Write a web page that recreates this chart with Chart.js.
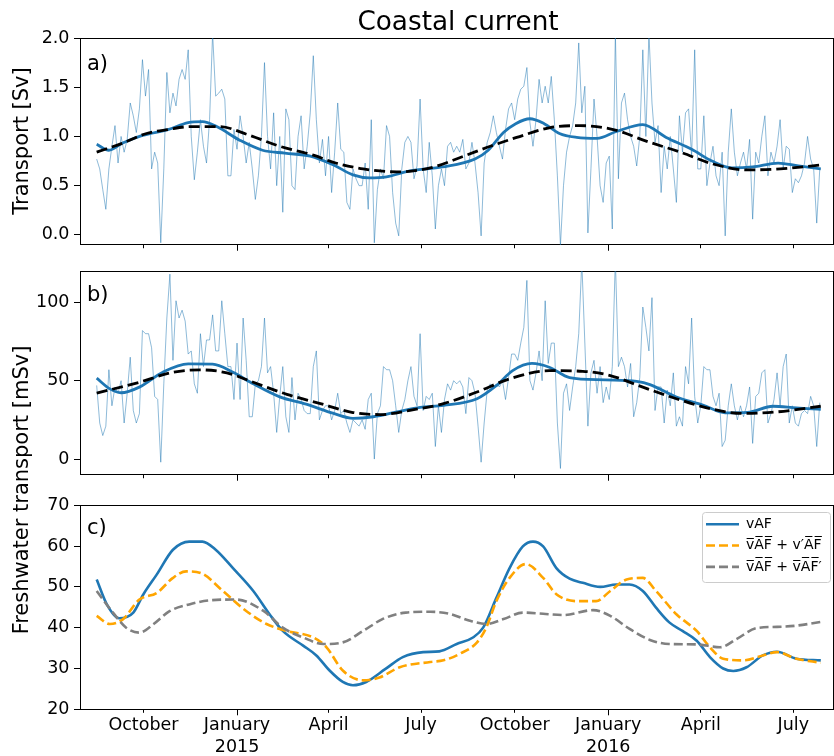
<!DOCTYPE html>
<html><head><meta charset="utf-8">
<script src="https://cdn.jsdelivr.net/npm/chart.js@4/dist/chart.umd.min.js"></script>
<style>
html,body{margin:0;padding:0;background:#fff;}
#wrap{position:relative;width:834px;height:756px;overflow:hidden;font-family:'DejaVu Sans',sans-serif;color:#000;}
.panel{position:absolute;left:0;width:834px;}
.panel canvas{display:block;}
.txt{position:absolute;white-space:nowrap;line-height:1;transform:translate(-50%,-50%);z-index:5;}
.rot{transform:translate(-50%,-50%) rotate(-90deg);}
.plab{position:absolute;white-space:nowrap;line-height:1;transform:translate(0,-50%);z-index:5;font-size:21px;}
</style></head><body>
<div id="wrap">
 <div class="panel" style="top:0;height:260px"><canvas id="cA" width="834" height="260"></canvas></div>
 <div class="panel" style="top:252px;height:238px"><canvas id="cB" width="834" height="238"></canvas></div>
 <div class="panel" style="top:490px;height:266px"><canvas id="cC" width="834" height="266"></canvas></div>
 <div class="txt" style="left:458px;top:21px;font-size:26.3px">Coastal current</div>
 <div class="txt rot" style="left:21px;top:141px;font-size:21px">Transport [Sv]</div>
 <div class="txt rot" style="left:21px;top:490px;font-size:21px">Freshwater transport [mSv]</div>
 <div class="plab" style="left:87px;top:63px">a)</div>
 <div class="plab" style="left:87px;top:294px">b)</div>
 <div class="plab" style="left:87px;top:527px">c)</div>
</div>
<script>
// ---------------- data ----------------
const START_DATE = '2014-08-16';
const SAMPLE_STEP_DAYS = 3;

// Panel a: transport [Sv], sampled every 3 days from START_DATE
const transportDaily = [
0.77,0.67,0.46,0.26,0.67,0.90,1.11,0.73,1.00,0.84,
0.97,1.34,1.21,1.04,1.28,1.78,1.41,1.68,0.67,0.84,
0.73,-0.08,0.67,1.65,1.24,1.44,1.31,1.58,1.68,1.58,
1.88,1.00,0.56,0.84,1.17,0.90,0.73,1.17,2.05,1.41,
1.44,1.48,1.38,0.60,0.60,1.07,0.87,1.21,1.00,0.73,
0.94,0.67,0.36,0.60,1.00,1.75,1.00,0.67,1.24,0.50,
1.00,0.23,1.28,1.17,0.50,0.46,1.00,1.21,0.67,0.90,
1.24,1.82,1.17,0.73,0.97,0.60,1.00,0.43,0.84,
1.34,0.87,0.84,0.33,0.26,0.67,0.57,0.50,0.50,0.73,
0.26,1.17,-0.08,0.46,0.67,0.57,1.11,1.00,0.43,0.12,
-0.01,0.67,0.94,1.00,0.94,0.57,0.70,1.38,0.67,0.43,
0.94,0.60,0.06,0.50,0.67,0.50,0.90,0.94,0.84,0.90,
0.84,0.97,0.67,0.73,0.94,0.73,0.43,-0.01,0.73,0.94,
1.04,1.21,1.04,0.90,0.77,1.07,1.28,1.34,1.17,1.38,
1.48,1.51,1.70,1.14,0.90,1.17,1.58,1.34,1.51,1.34,
1.61,1.17,0.60,-0.11,0.50,0.84,1.00,1.11,1.34,1.95,
1.24,1.51,
0.02,0.67,1.38,1.00,0.50,0.33,0.73,0.80,0.06,2.05,
0.57,1.34,1.44,1.17,1.00,0.90,0.70,1.00,1.88,1.00,
2.05,1.34,0.94,1.11,0.43,0.90,0.67,1.00,0.67,0.33,
1.21,0.84,1.24,1.28,0.80,1.88,0.67,0.67,1.21,0.50,
0.73,0.90,0.60,0.50,0.84,-0.01,0.84,1.28,0.84,0.60,
0.73,0.84,0.67,0.97,0.16,0.84,0.73,1.00,1.21,0.60,
0.84,0.73,0.90,1.17,0.67,0.90,0.87,0.43,0.57,0.53,
0.60,0.73,1.00,0.77,0.67,0.12,0.67];

const transportSmoothDays = [0,12,25,45,70,90,104,118,141,163,185,210,233,252,268,285,308,340,372,385,400,412,426,440,455,472,492,511,537,560,585,605,625,645,670,690,712];
const transportSmooth = [0.92,0.86,0.93,1.01,1.07,1.14,1.15,1.10,0.96,0.86,0.83,0.80,0.71,0.61,0.58,0.59,0.65,0.69,0.77,0.86,1.04,1.13,1.18,1.13,1.03,0.99,0.98,1.05,1.12,0.99,0.87,0.75,0.68,0.69,0.73,0.70,0.67];
const transportMeanDays = [0,25,49,70,92,121,148,180,213,235,262,295,328,361,387,413,446,475,508,541,574,606,639,672,712];
const transportMean = [0.84,0.93,1.03,1.07,1.10,1.10,1.02,0.90,0.81,0.73,0.67,0.64,0.68,0.80,0.90,0.99,1.09,1.11,1.07,0.95,0.84,0.72,0.66,0.67,0.71];

// Panel b: freshwater transport [mSv], sampled every 3 days
const freshwaterDaily = [
47,23,15,21,57,34,46,42,50,23,
42,65,31,23,29,82,80,80,71,40,
38,-2,48,90,118,63,101,90,95,88,
67,69,48,42,80,59,76,76,92,69,
69,101,80,59,59,38,74,38,90,63,
27,27,48,50,59,90,55,59,42,17,
40,59,27,17,52,25,42,38,31,29,
29,59,69,25,31,34,34,25,31,
42,29,31,23,17,25,23,21,25,19,
38,42,0,29,34,59,57,57,50,34,
17,31,38,50,59,40,34,80,31,40,
38,42,8,34,17,38,48,44,50,
48,50,46,29,52,50,42,21,-2,23,
44,48,46,48,46,50,38,52,67,67,
63,74,84,114,50,44,55,69,50,101,
61,74,74,23,-6,42,48,31,46,59,
80,126,74,21,55,63,42,59,36,46,
38,59,128,59,65,59,46,61,27,36,
52,97,84,69,103,31,46,46,23,44,
34,55,21,27,21,59,48,90,40,23,
34,59,57,57,40,34,42,8,12,34,
48,34,25,34,27,34,46,10,40,42,
55,57,23,29,38,55,34,59,67,23,
34,23,21,29,31,29,40,34,8,36];

const freshSmoothDays = [0,13,24,42,65,90,114,134,154,180,206,233,252,272,298,318,341,374,393,409,428,445,465,500,531,544,570,596,618,640,665,688,712];
const freshSmooth = [51.6,44.8,42.3,45.9,55.4,60.7,60.6,55.4,48,39.7,35,29.1,26,27,30.5,33,34.3,38.5,46.9,56.4,61,58.6,52,50.5,49.5,47.5,39.6,34.5,29.5,29.8,33.7,32.6,31.8];
const freshMeanDays = [0,42,75,102,128,154,187,220,252,279,308,341,374,406,445,478,505,537,570,603,636,669,712];
const freshMean = [42.1,49,55.4,56.9,55,49,41.3,35.4,29.7,28.4,31.1,35.4,42.8,51.2,56.4,56,53.3,45.9,38.5,32.2,29.1,30.1,33.7];

// Panel c: decomposition
const vafDays = [0,10,22,36,46,59,75,91,104,117,134,154,170,183,203,216,229,242,252,265,284,301,321,337,354,370,380,393,406,419,429,439,452,465,478,495,511,524,537,550,563,576,590,603,616,626,639,655,669,688,712];
const vaf = [51.8,45.7,42.3,43.7,48.2,53,59.1,61.1,61.1,59.1,54.6,49,43.3,39.2,35.6,33.2,29.5,26.7,25.9,26.7,29.9,32.8,34,34.2,36,37.6,40,47.3,54.6,59.9,61.1,59.9,54.6,52,51,50,50.6,50.6,49,44.9,41.3,39.2,36.8,32.8,30,29.4,30.3,33.2,34.1,32.4,32];
const velTermDays = [0,13,26,42,59,75,88,104,124,147,167,187,213,226,242,262,278,298,328,341,357,374,383,393,406,422,439,452,472,491,505,521,537,550,570,590,603,616,636,655,669,688,712];
const velTerm = [42.9,40.9,42.1,46.9,48.5,52.2,53.8,53.2,49,44.1,40.9,39.2,37.6,35.2,29.5,27.1,27.8,30.3,31.6,32,33.6,36.4,40,46.5,52.2,55.6,52.2,48.2,46.5,46.5,49,51.8,52.2,49,43.3,39.2,35.2,32.4,32,33.2,34,32.4,31.4];
const fwTermDays = [0,16,29,42,56,72,91,111,137,164,183,203,223,242,262,281,304,328,347,367,383,400,419,439,459,488,505,524,544,563,590,613,629,649,669,688,712];
const fwTerm = [49,43.7,40,38.8,40.9,44.1,45.7,46.7,46.9,44.1,40,37.6,36,36.4,39.2,42.1,43.7,43.9,43.4,41.7,40.9,42.1,43.7,43.4,43.1,44.3,42.9,39.7,37,36,35.9,35.2,37.2,39.9,40.2,40.5,41.4];
const seriesLabels = ['vAF', 'v\u0305A\u0305F\u0305 + v\u2032A\u0305F\u0305', 'v\u0305A\u0305F\u0305 + v\u0305A\u0305F\u0305\u2032'];

// Axes
const X_RANGE_DATES = ['2014-07-31', '2016-08-09'];
const TICK_DATES = ['2014-10-01','2015-01-01','2015-04-01','2015-07-01','2015-10-01','2016-01-01','2016-04-01','2016-07-01'];
const TICK_LABELS = [['October'],['January','2015'],['April'],['July'],['October'],['January','2016'],['April'],['July']];
const MAJOR_DATES = ['2015-01-01','2016-01-01'];
const Y_TICKS_A = [0, 0.5, 1.0, 1.5, 2.0];
const Y_RANGE_A = [-0.1, 2.0];
const Y_TICKS_B = [0, 50, 100];
const Y_RANGE_B = [-10, 120];
const Y_TICKS_C = [20, 30, 40, 50, 60, 70];
const Y_RANGE_C = [20, 70];

// ---------------- helpers ----------------
const dayOf = s => (Date.parse(s + 'T00:00:00Z') - Date.parse(START_DATE + 'T00:00:00Z')) / 86400000;
const dailyXY = vals => vals.map((v, i) => ({x: i * SAMPLE_STEP_DAYS, y: v}));
const pairXY = (days, vals) => days.map((d, i) => ({x: d, y: vals[i]}));
const X_MIN = dayOf(X_RANGE_DATES[0]) - 0.4, X_MAX = dayOf(X_RANGE_DATES[1]);
const TICK_DAYS = TICK_DATES.map(dayOf);
const MAJOR_DAYS = MAJOR_DATES.map(dayOf);

Chart.defaults.font.family = "'DejaVu Sans', sans-serif";
Chart.defaults.color = '#000';

const TICK_FONT = {family: "'DejaVu Sans', sans-serif", size: 17.5, lineHeight: 1.23};

function buildScales(yRange, yTicks, yFmt, showXLabels, xHeight) {
  return {
    xMajor: {
      type: 'linear', position: 'bottom', weight: 0, min: X_MIN, max: X_MAX,
      afterBuildTicks: s => { s.ticks = MAJOR_DAYS.map(v => ({value: v})); },
      ticks: {display: false},
      grid: {display: true, drawOnChartArea: false, drawTicks: true, tickLength: 6, tickColor: '#000', tickWidth: 1},
      border: {display: true, color: '#000', width: 1},
      afterFit: s => { s.height = 0; }
    },
    x: {
      type: 'linear', position: 'bottom', weight: 1, min: X_MIN, max: X_MAX,
      afterBuildTicks: s => { s.ticks = TICK_DAYS.map(v => ({value: v})); },
      ticks: {display: showXLabels, autoSkip: false, maxRotation: 0, minRotation: 0, padding: 2,
              color: '#000', font: TICK_FONT, callback: (v, i) => TICK_LABELS[i]},
      grid: {display: true, drawOnChartArea: false, drawTicks: true, tickLength: 3.5, tickWidth: 1,
             tickColor: c => (c.tick && MAJOR_DAYS.includes(c.tick.value)) ? 'rgba(0,0,0,0)' : '#000'},
      border: {display: false},
      afterFit: s => { s.height = xHeight; }
    },
    xTop: {
      type: 'linear', position: 'top', min: X_MIN, max: X_MAX,
      ticks: {display: false}, grid: {display: false},
      border: {display: true, color: '#000', width: 1},
      afterFit: s => { s.height = 0; }
    },
    y: {
      type: 'linear', position: 'left', min: yRange[0], max: yRange[1],
      afterBuildTicks: s => { s.ticks = yTicks.map(v => ({value: v})); },
      ticks: {padding: 4.5, color: '#000', font: TICK_FONT, callback: v => yFmt(v)},
      grid: {display: true, drawOnChartArea: false, drawTicks: true, tickLength: 6, tickColor: '#000', tickWidth: 1},
      border: {display: true, color: '#000', width: 1},
      afterFit: s => { s.width = 80; }
    },
    yRight: {
      type: 'linear', position: 'right', min: yRange[0], max: yRange[1],
      ticks: {display: false}, grid: {display: false},
      border: {display: true, color: '#000', width: 1},
      afterFit: s => { s.width = 0; }
    }
  };
}

function baseOptions(scales, padTop, legend) {
  return {
    responsive: false, maintainAspectRatio: false, animation: false, events: [],
    layout: {padding: {top: padTop, right: 1, bottom: 0, left: 0}},
    plugins: {legend: legend || {display: false}, tooltip: {enabled: false}, title: {display: false}},
    scales: scales,
    elements: {point: {radius: 0}}
  };
}

const BLUE = '#1f77b4';
const LIGHT_BLUE = 'rgba(31,119,180,0.5)';

function noisyDs(vals) {
  return {data: dailyXY(vals), borderColor: LIGHT_BLUE, borderWidth: 1, pointRadius: 0, tension: 0,
          xAxisID: 'x', yAxisID: 'y', order: 3, clip: 0};
}
function smoothDs(days, vals, color, width, dash, order) {
  return {data: pairXY(days, vals), borderColor: color, backgroundColor: color, borderWidth: width,
          borderDash: dash || [], pointRadius: 0, cubicInterpolationMode: 'monotone',
          xAxisID: 'x', yAxisID: 'y', order: order, clip: 0, fill: false};
}

// Panel a
new Chart(document.getElementById('cA'), {
  type: 'line',
  data: {datasets: [
    noisyDs(transportDaily),
    smoothDs(transportSmoothDays, transportSmooth, BLUE, 2.8, null, 2),
    smoothDs(transportMeanDays, transportMean, '#000', 2.8, [11, 5], 1)
  ]},
  options: baseOptions(buildScales(Y_RANGE_A, Y_TICKS_A, v => v.toFixed(1), false, 15), 38)
});

// Panel b
new Chart(document.getElementById('cB'), {
  type: 'line',
  data: {datasets: [
    noisyDs(freshwaterDaily),
    smoothDs(freshSmoothDays, freshSmooth, BLUE, 2.8, null, 2),
    smoothDs(freshMeanDays, freshMean, '#000', 2.8, [11, 5], 1)
  ]},
  options: baseOptions(buildScales(Y_RANGE_B, Y_TICKS_B, v => String(v), false, 13), 19)
});

// Panel c
const legendPlacement = {
  id: 'legendPlacement',
  afterLayout(chart) {
    const lg = chart.legend, ca = chart.chartArea;
    if (!lg || !ca) return;
    lg.left = ca.right - 134.3;
    lg.top = ca.top + 4.7;
    lg.right = lg.left + lg.width;
    lg.bottom = lg.top + 90;
  },
  beforeDraw(chart) {
    const ca = chart.chartArea, ctx = chart.ctx;
    const x = Math.round(ca.right - 131) + 0.5, y = Math.round(ca.top + 6.7) + 0.5;
    ctx.save();
    ctx.beginPath();
    ctx.roundRect(x, y, 128, 70, 3);
    ctx.fillStyle = 'rgba(255,255,255,0.8)';
    ctx.fill();
    ctx.strokeStyle = '#cccccc';
    ctx.lineWidth = 1;
    ctx.stroke();
    ctx.restore();
  }
};

const cDatasets = [
  Object.assign(smoothDs(vafDays, vaf, BLUE, 2.6, null, 3), {label: seriesLabels[0]}),
  Object.assign(smoothDs(velTermDays, velTerm, '#ffa500', 2.6, [9, 4], 2), {label: seriesLabels[1]}),
  Object.assign(smoothDs(fwTermDays, fwTerm, '#808080', 2.6, [9, 4], 1), {label: seriesLabels[2]})
];

new Chart(document.getElementById('cC'), {
  type: 'line',
  data: {datasets: cDatasets},
  options: baseOptions(buildScales(Y_RANGE_C, Y_TICKS_C, v => String(v), true, 46.7), 13.3, {
    display: true, position: 'chartArea', align: 'start',
    labels: {
      usePointStyle: true, pointStyle: 'line', pointStyleWidth: 33, padding: 7.3,
      color: '#000', font: {family: "'DejaVu Sans', sans-serif", size: 14},
      generateLabels: chart => chart.data.datasets.map((ds, i) => ({
        text: ds.label, fillStyle: ds.borderColor, strokeStyle: ds.borderColor,
        lineWidth: ds.borderWidth, lineDash: ds.borderDash || [], lineCap: 'butt',
        pointStyle: 'line', hidden: false, datasetIndex: i, fontColor: '#000'
      }))
    }
  }),
  plugins: [legendPlacement]
});
</script>
</body></html>
